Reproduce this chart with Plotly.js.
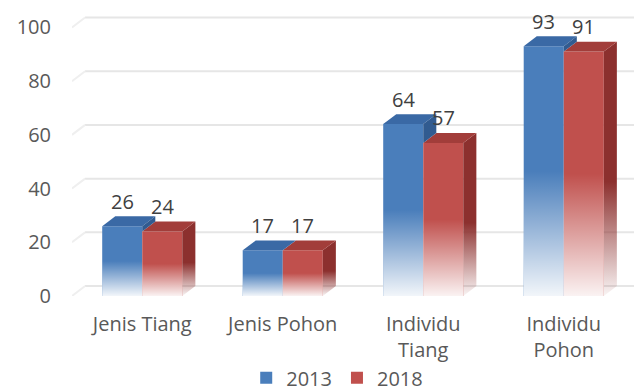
<!DOCTYPE html>
<html>
<head>
<meta charset="utf-8">
<script src="https://cdn.plot.ly/plotly-3.0.1.min.js"></script>
<style>html,body{margin:0;padding:0;background:#fff;}#chart{width:636px;height:392px;}</style>
</head>
<body>
<div id="chart"></div>
<script>
// ---- data ----
const categories = ['Jenis Tiang', 'Jenis Pohon', 'Individu<br>Tiang', 'Individu<br>Pohon'];
const seriesNames = ['2013', '2018'];
const values2013 = [26, 17, 64, 93];
const values2018 = [24, 17, 57, 91];
const yTicks = [0, 20, 40, 60, 80, 100];

// ---- styles ----
const FONT = 'Open Sans, Segoe UI, Arial, sans-serif';
const BLUE = '#4a7ebb', BLUE_TOP = '#3a69a5', BLUE_SIDE = '#315b90';
const RED = '#c0504d', RED_TOP = '#a23d3a', RED_SIDE = '#8c302e';
const BARGAP = 0.43;
const W = (1 - BARGAP) / 2;     // width of one bar in axis units
const DX = 0.093;               // 3D depth along x (axis units)
const DY = 3.7;                 // 3D depth along y (axis units)
const FADE = 0.5;               // fraction of bar height that fades to white

const idx = categories.map((c, i) => i);

const traces = [
  {type: 'bar', name: seriesNames[0], x: idx, y: values2013, marker: {color: BLUE}, hoverinfo: 'y+name'},
  {type: 'bar', name: seriesNames[1], x: idx, y: values2018, marker: {color: RED}, hoverinfo: 'y+name'}
];

function poly(xs, ys, extra) {
  return Object.assign({
    type: 'scatter', mode: 'none', fill: 'toself', x: xs, y: ys,
    showlegend: false, hoverinfo: 'skip'
  }, extra);
}
function vgrad(start, stop, cs) {
  return {fillgradient: {type: 'vertical', start: start, stop: stop, colorscale: cs}};
}

idx.forEach(i => {
  const b = values2013[i], r = values2018[i];
  const bl = i - W, mid = i, rr = i + W;
  // red side face
  traces.push(poly([rr, rr + DX, rr + DX, rr, rr], [0, DY, r + DY, r, 0],
    vgrad(0, r + DY, [[0, 'rgba(140,48,46,0.05)'], [FADE * 0.9, 'rgba(140,48,46,1)'], [1, 'rgba(140,48,46,1)']])));
  // red top face
  traces.push(poly([mid, rr, rr + DX, mid + DX, mid], [r, r, r + DY, r + DY, r], {fillcolor: RED_TOP}));
  // blue top face
  traces.push(poly([bl, mid, mid + DX, bl + DX, bl], [b, b, b + DY, b + DY, b], {fillcolor: BLUE_TOP}));
  // visible part of blue side face (above red bar)
  if (b > r) {
    traces.push(poly([mid, mid + DX, mid + DX, mid, mid], [r, r + DY, b + DY, b, r], {fillcolor: BLUE_SIDE}));
  }
  // white fade over the lower part of each front face
  [[bl, mid, b], [mid, rr, r]].forEach(f => {
    traces.push(poly([f[0], f[1], f[1], f[0], f[0]], [0, 0, f[2] * FADE, f[2] * FADE, 0],
      vgrad(0, f[2] * FADE, [[0, 'rgba(255,255,255,0.93)'], [1, 'rgba(255,255,255,0)']])));
  });
});

// back-wall gridlines with left slant
const shapes = [];
yTicks.forEach(v => {
  shapes.push({type: 'line', layer: 'below', xref: 'x', yref: 'y', x0: -0.5 + DX, x1: 3.5, y0: v + DY, y1: v + DY,
    line: {color: '#e6e6e6', width: 2}});
  shapes.push({type: 'line', layer: 'below', xref: 'x', yref: 'y', x0: -0.5, x1: -0.5 + DX, y0: v, y1: v + DY,
    line: {color: '#efefef', width: 2}});
});

// value labels
const annotations = [];
idx.forEach(i => {
  annotations.push({x: i - W / 2, y: values2013[i], text: String(values2013[i]), showarrow: false, yshift: 25,
    font: {family: FONT, size: 20, color: '#404040'}});
  annotations.push({x: i + W / 2, y: values2018[i], text: String(values2018[i]), showarrow: false, yshift: 25,
    font: {family: FONT, size: 20, color: '#404040'}});
});

const layout = {
  width: 636, height: 392,
  margin: {l: 72, r: 2, t: 14, b: 96, autoexpand: false},
  paper_bgcolor: '#ffffff', plot_bgcolor: '#ffffff',
  font: {family: FONT, size: 20, color: '#595959'},
  barmode: 'group', bargap: BARGAP, bargroupgap: 0,
  hovermode: false,
  xaxis: {range: [-0.5, 3.5], tickvals: idx, ticktext: categories, showgrid: false, zeroline: false,
    showline: false, ticks: '', tickfont: {size: 20, color: '#595959'}, ticklabelstandoff: 14},
  yaxis: {range: [0, 105], tickvals: yTicks, showgrid: false, zeroline: false, showline: false, ticks: '',
    tickfont: {size: 20, color: '#595959'}, ticklabelstandoff: 20},
  showlegend: true,
  legend: {orientation: 'h', x: 0.31, xanchor: 'left', y: -0.221, yanchor: 'top',
    font: {size: 20, color: '#595959'}, traceorder: 'normal', itemclick: false},
  shapes: shapes,
  annotations: annotations
};

Plotly.newPlot('chart', traces, layout, {staticPlot: true, displayModeBar: false});
</script>
</body>
</html>
